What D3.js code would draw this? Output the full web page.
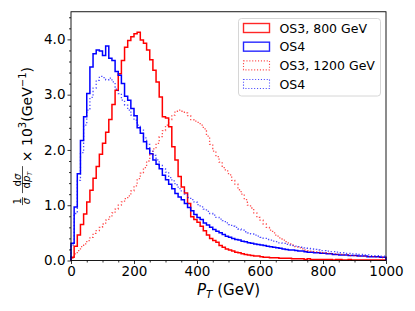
<!DOCTYPE html>
<html>
<head>
<meta charset="utf-8">
<script src="https://cdn.jsdelivr.net/npm/d3@7"></script>
<style>
  body { margin: 0; background: #fff; }
  svg text { font-family: "DejaVu Sans", sans-serif; fill: #000; }
</style>
</head>
<body>
<div id="chart"></div>
<script>
// bin width 10 GeV, 0 - 1000 GeV
const binEdges = d3.range(0, 1001, 10);

const os3_800 = [
  0.06, 0.26, 0.46, 0.65, 0.84, 1.06, 1.27, 1.49, 1.70, 1.92,
  2.12, 2.32, 2.55, 2.82, 3.08, 3.38, 3.62, 3.86, 3.98, 4.05,
  4.10, 4.13, 3.99, 3.93, 3.81, 3.63, 3.44, 3.23, 2.96, 2.60,
  2.58, 2.42, 2.06, 1.82, 1.52, 1.33, 1.22, 1.03, 0.79, 0.74,
  0.69, 0.62, 0.54, 0.46, 0.40, 0.36, 0.33, 0.27, 0.24, 0.21,
  0.19, 0.17, 0.15, 0.14, 0.12, 0.11, 0.10, 0.09, 0.08, 0.08,
  0.07, 0.06, 0.06, 0.05, 0.05, 0.05, 0.04, 0.04, 0.04, 0.04,
  0.03, 0.03, 0.03, 0.03, 0.02, 0.03, 0.02, 0.02, 0.02, 0.02,
  0.02, 0.02, 0.02, 0.01, 0.02, 0.02, 0.01, 0.01, 0.02, 0.01,
  0.01, 0.01, 0.01, 0.01, 0.01, 0.01, 0.01, 0.01, 0.01, 0.01
];

const os4_800 = [
  0.31, 0.97, 1.57, 2.17, 2.60, 3.02, 3.50, 3.74, 3.81, 3.79,
  3.71, 3.88, 3.66, 3.62, 3.42, 3.35, 3.20, 2.97, 2.90, 2.75,
  2.62, 2.40, 2.30, 2.15, 2.02, 1.93, 1.82, 1.74, 1.66, 1.54,
  1.46, 1.38, 1.30, 1.21, 1.15, 1.10, 1.03, 0.96, 0.90, 0.83,
  0.78, 0.74, 0.68, 0.64, 0.60, 0.56, 0.53, 0.50, 0.47, 0.44,
  0.42, 0.40, 0.38, 0.37, 0.35, 0.34, 0.32, 0.31, 0.30, 0.29,
  0.28, 0.27, 0.26, 0.25, 0.24, 0.23, 0.22, 0.21, 0.20, 0.19,
  0.19, 0.18, 0.17, 0.17, 0.16, 0.15, 0.15, 0.14, 0.14, 0.13,
  0.13, 0.12, 0.12, 0.11, 0.11, 0.10, 0.10, 0.10, 0.09, 0.09,
  0.09, 0.08, 0.08, 0.08, 0.07, 0.07, 0.07, 0.07, 0.06, 0.06
];

const os3_1200 = [
  0.04, 0.12, 0.18, 0.25, 0.30, 0.36, 0.42, 0.49, 0.54, 0.60,
  0.66, 0.73, 0.79, 0.86, 0.93, 1.00, 1.06, 1.12, 1.17, 1.26,
  1.35, 1.48, 1.58, 1.68, 1.80, 1.92, 2.02, 2.12, 2.24, 2.35,
  2.45, 2.55, 2.63, 2.70, 2.72, 2.70, 2.67, 2.62, 2.55, 2.52,
  2.50, 2.45, 2.38, 2.25, 2.10, 1.98, 1.88, 1.78, 1.68, 1.62,
  1.55, 1.45, 1.38, 1.28, 1.20, 1.10, 1.00, 0.95, 0.86, 0.78,
  0.73, 0.66, 0.60, 0.55, 0.50, 0.44, 0.41, 0.37, 0.34, 0.30,
  0.28, 0.25, 0.23, 0.21, 0.19, 0.18, 0.17, 0.16, 0.15, 0.14,
  0.14, 0.13, 0.12, 0.12, 0.11, 0.11, 0.10, 0.10, 0.09, 0.09,
  0.08, 0.08, 0.08, 0.07, 0.07, 0.07, 0.06, 0.06, 0.06, 0.05
];

const os4_1200 = [
  0.28, 0.85, 1.45, 1.95, 2.45, 2.72, 2.95, 3.12, 3.26, 3.33,
  3.31, 3.27, 3.30, 3.23, 3.10, 3.02, 2.90, 2.81, 2.72, 2.63,
  2.54, 2.45, 2.36, 2.22, 2.10, 1.98, 1.90, 1.82, 1.72, 1.66,
  1.60, 1.50, 1.44, 1.37, 1.30, 1.26, 1.20, 1.14, 1.10, 1.06,
  1.01, 0.97, 0.93, 0.89, 0.85, 0.82, 0.78, 0.75, 0.72, 0.68,
  0.65, 0.62, 0.60, 0.57, 0.55, 0.52, 0.50, 0.48, 0.46, 0.44,
  0.42, 0.40, 0.38, 0.37, 0.35, 0.34, 0.32, 0.31, 0.29, 0.28,
  0.27, 0.26, 0.25, 0.24, 0.23, 0.22, 0.21, 0.20, 0.19, 0.18,
  0.18, 0.17, 0.16, 0.16, 0.15, 0.14, 0.14, 0.13, 0.13, 0.12,
  0.12, 0.11, 0.11, 0.10, 0.10, 0.09, 0.09, 0.09, 0.08, 0.08
];

const series = [
  { label: 'OS3, 800 GeV', values: os3_800, color: '#ff0000', dotted: false },
  { label: 'OS4', values: os4_800, color: '#0000ff', dotted: false },
  { label: 'OS3, 1200 GeV', values: os3_1200, color: '#ff0000', dotted: true },
  { label: 'OS4', values: os4_1200, color: '#0000ff', dotted: true }
];

const xMajor = [0, 200, 400, 600, 800, 1000];
const yMajor = [0, 1, 2, 3, 4];

const width = 415;
const height = 311;
const plot = { left: 71, right: 386, top: 11.75, bottom: 260.5 };

const svg = d3.select('#chart').append('svg')
    .attr('width', width)
    .attr('height', height);

const x = d3.scaleLinear().domain([0, 1000]).range([plot.left, plot.right]);
const y = d3.scaleLinear().domain([0, 4.5]).range([plot.bottom, plot.top]);

// histograms (step)
const line = d3.line()
    .x(d => x(d[0]))
    .y(d => y(d[1]));

function stepPoints(values) {
  const pts = [[binEdges[0], 0]];
  values.forEach((v, i) => {
    pts.push([binEdges[i], v]);
    pts.push([binEdges[i + 1], v]);
  });
  pts.push([binEdges[binEdges.length - 1], 0]);
  return pts;
}

const histG = svg.append('g');
series.forEach(s => {
  histG.append('path')
      .attr('d', line(stepPoints(s.values)))
      .attr('fill', 'none')
      .attr('stroke', s.color)
      .attr('stroke-width', s.dotted ? 1.3 : 1.5)
      .attr('stroke-opacity', s.dotted ? 0.7 : 1)
      .attr('stroke-dasharray', s.dotted ? '1.3,2.1' : null)
      .attr('stroke-linejoin', 'miter');
});

// axes
const fontSize = 13.5;

const xAxis = svg.append('g')
    .attr('transform', `translate(0,${plot.bottom})`)
    .call(d3.axisBottom(x).tickValues(xMajor).tickSize(3.5).tickPadding(2.5).tickFormat(d3.format('d')));

const xMinor = svg.append('g')
    .attr('transform', `translate(0,${plot.bottom})`)
    .call(d3.axisBottom(x).tickValues(d3.range(0, 1001, 50).filter(v => v % 200 !== 0)).tickSize(2).tickFormat(''));

const yAxis = svg.append('g')
    .attr('transform', `translate(${plot.left},0)`)
    .call(d3.axisLeft(y).tickValues(yMajor).tickSize(3.5).tickPadding(2).tickFormat(d3.format('.1f')));

const yMinor = svg.append('g')
    .attr('transform', `translate(${plot.left},0)`)
    .call(d3.axisLeft(y).tickValues(d3.range(0, 4.5, 0.2).filter(v => Math.abs(v - Math.round(v)) > 0.01)).tickSize(2).tickFormat(''));

[xAxis, xMinor, yAxis, yMinor].forEach(g => {
  g.select('.domain').remove();
  g.selectAll('line').attr('stroke', '#000').attr('stroke-width', 0.8);
  g.selectAll('text')
      .attr('font-family', '"DejaVu Sans", sans-serif')
      .attr('font-size', fontSize)
      .attr('fill', '#000');
});

// frame
svg.append('rect')
    .attr('x', plot.left)
    .attr('y', plot.top)
    .attr('width', plot.right - plot.left)
    .attr('height', plot.bottom - plot.top)
    .attr('fill', 'none')
    .attr('stroke', '#000')
    .attr('stroke-width', 0.9);

// x label
const xLabel = svg.append('text')
    .attr('x', (plot.left + plot.right) / 2)
    .attr('y', 295)
    .attr('text-anchor', 'middle')
    .attr('font-size', 15);
xLabel.append('tspan').attr('font-style', 'italic').text('P');
xLabel.append('tspan').attr('font-style', 'italic').attr('font-size', 10.5).attr('dy', 3).text('T');
xLabel.append('tspan').attr('dy', -3).text(' (GeV)');

// y label (rotated)
const yl = svg.append('g')
    .attr('transform', `translate(32,${(plot.top + plot.bottom) / 2}) rotate(-90)`);
const fs = 10;
// 1/sigma
yl.append('text').attr('x', -65).attr('y', -11.5).attr('text-anchor', 'middle').attr('font-size', fs).text('1');
yl.append('line').attr('x1', -69).attr('x2', -61).attr('y1', -9.5).attr('y2', -9.5).attr('stroke', '#000').attr('stroke-width', 0.7);
yl.append('text').attr('x', -65).attr('y', -2).attr('text-anchor', 'middle').attr('font-size', fs).attr('font-style', 'italic').text('σ');
// d sigma / d p_T
yl.append('text').attr('x', -44).attr('y', -11.5).attr('text-anchor', 'middle').attr('font-size', fs)
    .call(t => { t.append('tspan').text('d'); t.append('tspan').attr('font-style', 'italic').text('σ'); });
yl.append('line').attr('x1', -57).attr('x2', -30).attr('y1', -9.5).attr('y2', -9.5).attr('stroke', '#000').attr('stroke-width', 0.7);
yl.append('text').attr('x', -44).attr('y', -2).attr('text-anchor', 'middle').attr('font-size', fs)
    .call(t => {
      t.append('tspan').text('d');
      t.append('tspan').attr('font-style', 'italic').text('p');
      t.append('tspan').attr('font-style', 'italic').attr('font-size', 6.5).attr('dy', 2).text('T');
    });
// x 10^3 (GeV^-1)
const ylt = yl.append('text').attr('x', -26).attr('y', 0).attr('font-size', 14);
ylt.append('tspan').text('× 10');
ylt.append('tspan').attr('font-size', 10).attr('dy', -6).text('3');
ylt.append('tspan').attr('dy', 6).text('(GeV');
ylt.append('tspan').attr('font-size', 10).attr('dy', -6).text('−1');
ylt.append('tspan').attr('dy', 6).text(')');

// legend
const legend = svg.append('g');
legend.append('rect')
    .attr('x', 238.5)
    .attr('y', 18.5)
    .attr('width', 142)
    .attr('height', 77.5)
    .attr('rx', 3)
    .attr('fill', '#fff')
    .attr('fill-opacity', 0.8)
    .attr('stroke', '#cccccc')
    .attr('stroke-width', 0.8);

const rowY = d3.scalePoint().domain(d3.range(series.length)).range([28, 84]);
const items = legend.selectAll('g.item')
    .data(series)
  .enter().append('g')
    .attr('class', 'item')
    .attr('transform', (d, i) => `translate(0,${rowY(i)})`);

items.append('rect')
    .attr('x', 243.5)
    .attr('y', -4.5)
    .attr('width', 26)
    .attr('height', 9)
    .attr('fill', 'none')
    .attr('stroke', d => d.color)
    .attr('stroke-width', d => d.dotted ? 1.1 : 1.4)
    .attr('stroke-opacity', d => d.dotted ? 0.7 : 0.85)
    .attr('stroke-dasharray', d => d.dotted ? '1.1,1.8' : null);

items.append('text')
    .attr('x', 279.5)
    .attr('y', 4.5)
    .attr('font-size', 12.5)
    .text(d => d.label);
</script>
</body>
</html>
